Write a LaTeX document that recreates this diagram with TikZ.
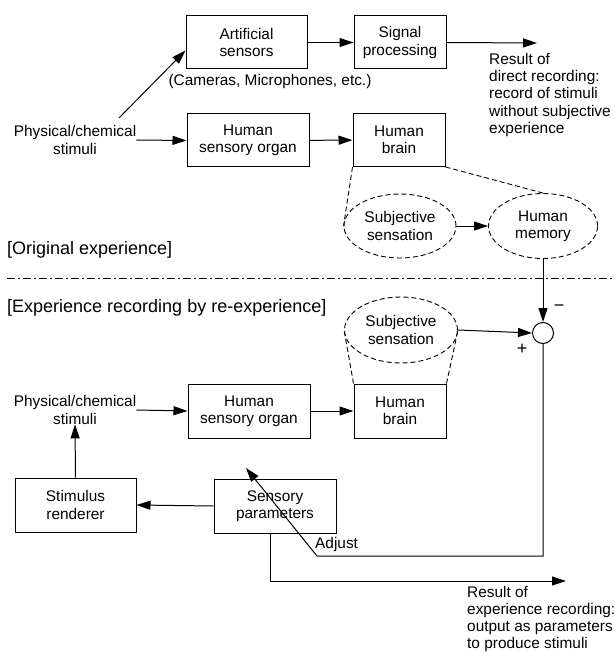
\documentclass[tikz,border=0pt]{standalone}
\usepackage{fontspec}
\setmainfont{Liberation Sans}
\usetikzlibrary{arrows.meta,shapes,positioning}

\begin{document}
\begin{tikzpicture}[x=1pt, y=-1pt, >={Triangle[length=14pt,width=9pt]},
  every node/.style={font=\fontsize{15.4}{17.2}\selectfont},
  box/.style={draw, line width=1pt, minimum height=53pt, align=center, inner sep=0pt},
  bubble/.style={ellipse, draw, dash pattern=on 5pt off 3pt, line width=0.9pt, align=center, inner sep=0pt},
  txt/.style={align=center, inner sep=0pt},
  part/.style={anchor=west, inner sep=0pt, font=\fontsize{18}{20}\selectfont},
  link/.style={->, line width=1pt},
  guide/.style={dash pattern=on 5pt off 3pt, line width=0.9pt}]
  \useasboundingbox (0,0) rectangle (614,652);

  % Original experience
  \node[box, minimum width=121pt] (sensors) at (246.5,42.5) {Artificial\\sensors};
  \node[box, minimum width=92pt] (signal) at (400,42.5) {Signal\\processing};
  \node[txt] (cameras) at (270,82) {(Cameras, Microphones, etc.)};
  \node[txt, align=left, anchor=west] (direct) at (489,95) {Result of\\direct recording:\\record of stimuli\\without subjective\\experience};
  \node[txt] (stimA) at (75,140) {Physical/chemical\\stimuli};
  \node[box, minimum width=122pt] (organA) at (248,140.5) {Human\\sensory organ};
  \node[box, minimum width=92pt] (brainA) at (399,140) {Human\\brain};
  \node[bubble, minimum width=112pt, minimum height=64pt] (sensA) at (400,226) {Subjective\\sensation};
  \node[bubble, minimum width=109pt, minimum height=65pt] (memory) at (543,226) {Human\\memory};
  \node[part] (origlab) at (7,250) {[Original experience]};

  \coordinate (stimAup) at (119,118);
  \coordinate (directout) at (537,43);
  \draw[link] (stimAup) -- ([yshift=-8pt]sensors.west);
  \draw[link] (sensors) -- (signal);
  \draw[link] (signal.east) -- (directout);
  \draw[link] (stimA.east) -- (organA.west);
  \draw[link] (organA) -- (brainA);
  \draw[guide] (brainA.south west) -- (sensA.west);
  \draw[guide] (brainA.south east) -- (memory.north);
  \draw[link] (sensA) -- (memory);

  % separator
  \draw[line width=0.9pt, dash pattern=on 8pt off 3pt on 2pt off 3pt] (7,278) -- (614,278);

  % Experience recording by re-experience
  \node[part] (recolab) at (7,308) {[Experience recording by re-experience]};
  \node[bubble, minimum width=113pt, minimum height=66pt] (sensB) at (401,330) {Subjective\\sensation};
  \node[circle, draw, line width=1pt, minimum size=21pt, inner sep=0pt] (sum) at (543,333) {};
  \node[txt, font=\fontsize{18}{18}\selectfont] (minus) at (559,308) {−};
  \node[txt, font=\fontsize{18}{18}\selectfont] (plus) at (522,349) {+};
  \node[txt] (stimB) at (75,410) {Physical/chemical\\stimuli};
  \node[box, minimum width=122pt, minimum height=54pt] (organB) at (249,411) {Human\\sensory organ};
  \node[box, minimum width=92pt, minimum height=54pt] (brainB) at (400,411) {Human\\brain};
  \node[box, minimum width=121pt, minimum height=54pt] (renderer) at (75.5,505) {Stimulus\\renderer};
  \node[box, minimum width=122pt, minimum height=54pt] (params) at (275,506) {Sensory\\parameters};
  \node[txt, anchor=west] (adjust) at (315,545) {Adjust};
  \node[txt, align=left, anchor=west] (recout) at (467,619) {Result of\\experience recording:\\output as parameters\\to produce stimuli};

  \coordinate (adjfoot) at (317,556);
  \coordinate (adjtip) at (246,468);
  \coordinate (recend) at (566,581);
  \draw[link] (memory.south) -- (sum.north);
  \draw[link] (sensB.east) -- (sum.west);
  \draw[guide] (brainB.north west) -- (sensB.west);
  \draw[guide] (brainB.north east) -- (sensB.east);
  \draw[link] (stimB.east) -- (organB.west);
  \draw[link] (organB) -- (brainB);
  \draw[link] (renderer.north) -- (stimB.south);
  \draw[link] (params.west) -- (renderer.east);
  \draw[link] (sum.south) |- (adjfoot) -- (adjtip);
  \draw[link] ([xshift=-5pt]params.south) |- (recend);
\end{tikzpicture}
\end{document}
